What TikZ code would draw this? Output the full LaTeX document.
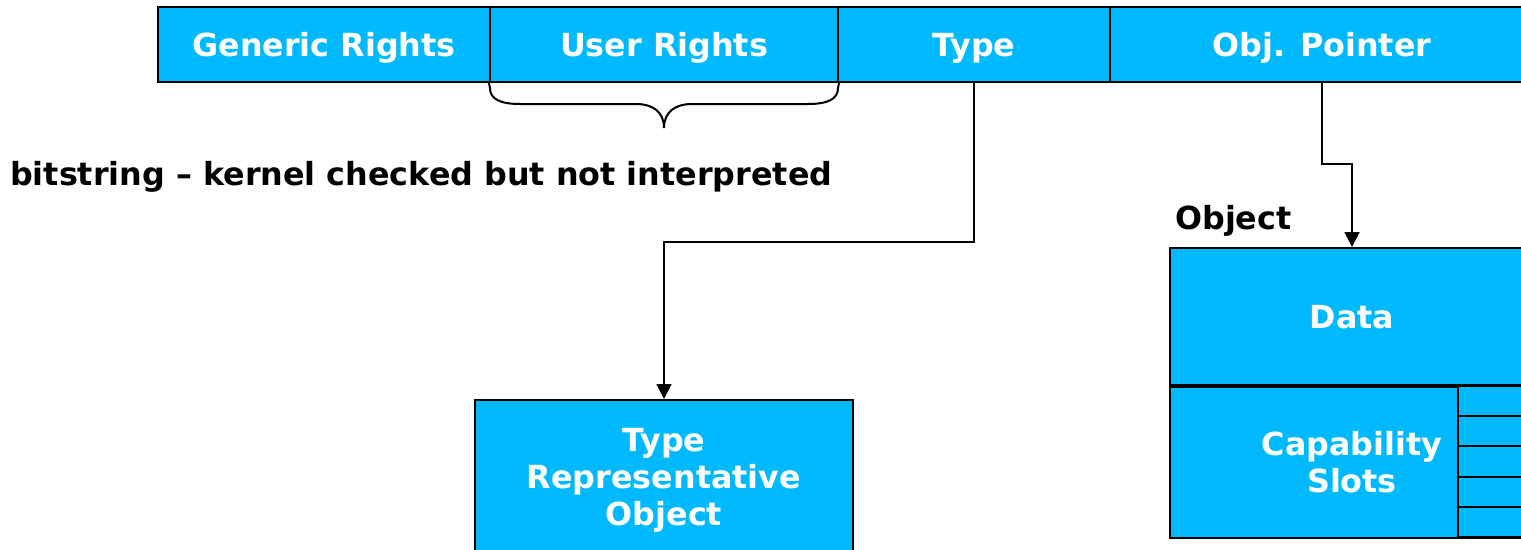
\documentclass[tikz,border=0pt]{standalone}
\usepackage{fontspec}
\setmainfont{DejaVu Sans}
\usetikzlibrary{arrows.meta,calc}
\definecolor{cellblue}{RGB}{0,185,255}
\begin{document}
\begin{tikzpicture}[x=1pt,y=-1pt,
  cell/.style={draw=black,line width=2pt,fill=cellblue,text=white,
    font=\fontsize{31.8}{37}\selectfont\bfseries,inner sep=0pt,align=center,anchor=center},
  single/.style={text height=23pt,text depth=0pt},
  txt/.style={text=white,font=\fontsize{31.8}{37}\selectfont\bfseries,inner sep=0pt,align=center},
  lbl/.style={text=black,font=\fontsize{31.8}{37}\selectfont\bfseries,inner sep=0pt},
  conn/.style={draw=black,line width=1.8pt,-{Triangle[width=15pt,length=15pt]}},
  bracestyle/.style={draw=black,line width=2pt}]
\useasboundingbox (0,0) rectangle (1521,549);
\clip (0,0) rectangle (1521,549);
% top bar
\node[cell,single,minimum width=332,minimum height=75] (gr) at (324,44.5) {Generic Rights};
\node[cell,single,minimum width=348,minimum height=75] (ur) at (664,44.5) {User Rights};
\node[cell,single,minimum width=272,minimum height=75] (ty) at (974,44.5) {Type};
\node[cell,single,minimum width=424,minimum height=75] (op) at (1322,44.5) {Obj. Pointer};
% brace
\draw[bracestyle] (ur.south west) -- (490,88) .. controls (490,99) and (500,104) .. (520,104)
  -- (636,104) .. controls (653,104) and (664,112) .. (664,128)
  .. controls (664,112) and (675,104) .. (692,104) -- (808,104)
  .. controls (828,104) and (838,99) .. (838,88) -- (ur.south east);
\node[lbl,anchor=base west] (bs) at (10,185) {bitstring – kernel checked but not interpreted};
% type representative object
\node[cell,minimum width=378,minimum height=154] (tro) at (664,477) {};
\node[txt] (trotext) at (664,480) {Type\\Representative\\Object};
\draw[conn] (ty.south) -- ++(0,159) -| (tro.north);
% object
\node[lbl,anchor=base west] (objl) at (1175,229) {Object};
\node[cell,single,minimum width=364,minimum height=137] (data) at (1352,316.5) {Data};
\node[cell,minimum width=364,minimum height=151,anchor=north] (cap) at (data.south) {};
\node[txt] (captext) at (1352,462) {Capability\\Slots};
\foreach \i in {0,...,4}
  \node[cell,minimum width=77,minimum height=30.2,anchor=north west] (slot\i) at (1457,385+\i*30.2) {};
\draw[conn] (op.south) |- ($(data.north)+(0,-83)$) -- (data.north);
\end{tikzpicture}
\end{document}
